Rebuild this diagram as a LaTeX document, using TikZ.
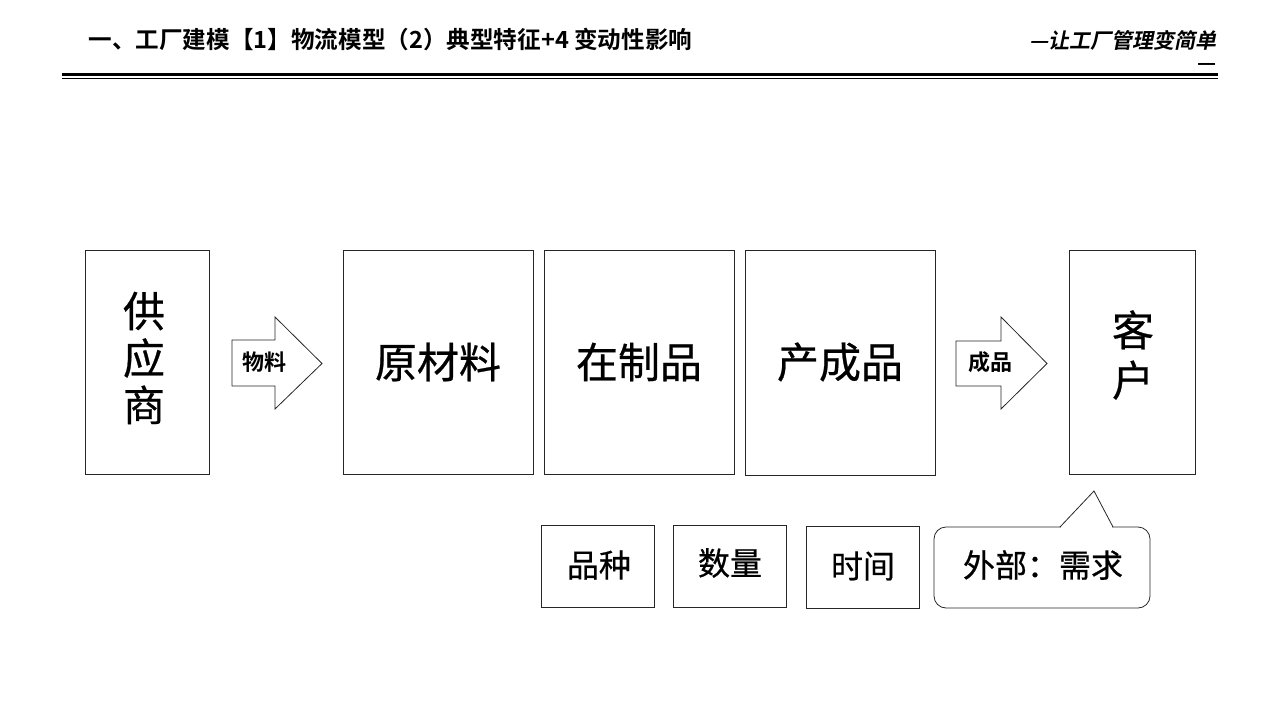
\documentclass[tikz,border=0pt]{standalone}
\usepackage{fontspec}
\newfontfamily\cjk[FakeBold=0.6]{Noto Sans CJK SC}
\newfontfamily\cjkb{Noto Sans CJK SC Bold}
\newfontfamily\cjkbi[FakeSlant=0.2]{Noto Sans CJK SC Bold}
\begin{document}
\begin{tikzpicture}[x=1pt,y=-1pt,
  box/.style={draw=black!85,line width=1pt},
  big/.style={font=\cjk\fontsize{42}{48}\selectfont},
  small/.style={font=\cjkb\fontsize{22}{26}\selectfont},
  mid/.style={font=\cjk\fontsize{32}{38}\selectfont}]
\useasboundingbox (0,0) rectangle (1280,720);
% header
\node[anchor=west,font=\cjkb\fontsize{23.6}{28}\selectfont] (title) at (85,40) {一、工厂建模【1】物流模型（2）典型特征+4 变动性影响};
\node[anchor=east,font=\cjkbi\fontsize{21}{24}\selectfont] (slogan) at (1220,40) {—让工厂管理变简单};
\node[anchor=east,font=\cjkb\fontsize{21}{24}\selectfont] (dash) at (1220,67) {—};
\coordinate (hl1) at (62,74.5); \coordinate (hr1) at (1218,74.5);
\coordinate (hl2) at (62,78.5); \coordinate (hr2) at (1218,78.5);
\draw[line width=2.5pt] (hl1) -- (hr1);
\draw[line width=1pt] (hl2) -- (hr2);
% main boxes
\draw[box] (85,250) rectangle (209,474);
\node[big,align=center] (sup) at (144,358) {供\\[-1pt]应\\[-1pt]商};
\draw[box] (343,250) rectangle (533,474);
\node[big] (raw) at (438,362) {原材料};
\draw[box] (544,250) rectangle (734,474);
\node[big] (wip) at (639,362) {在制品};
\draw[box] (745,250) rectangle (935,475);
\node[big] (fin) at (840,362) {产成品};
\draw[box] (1069,250) rectangle (1195,474);
\node[big,align=center] (cus) at (1133,355) {客\\[2pt]户};
% arrows
\draw[box,line width=0.8pt] (232,340) -- (275,340) -- (275,317) -- (322,363.5) -- (275,409) -- (275,386) -- (232,386) -- cycle;
\node[small] (a1) at (264,362) {物料};
\draw[box,line width=0.8pt] (956,341) -- (1001,341) -- (1001,317) -- (1047,363.5) -- (1001,409) -- (1001,386) -- (956,386) -- cycle;
\node[small] (a2) at (990,362) {成品};
% bottom boxes
\draw[box] (541,525) rectangle (654,607);
\node[mid] (b1) at (599,565) {品种};
\draw[box] (673,525) rectangle (786,607);
\node[mid] (b2) at (730,563) {数量};
\draw[box] (806,526) rectangle (919,608);
\node[mid] (b3) at (863,566) {时间};
% callout
\draw[box,line width=0.8pt,rounded corners=12pt] (1060,527) -- (1150,527) -- (1150,608) -- (934,608) -- (934,527) -- (1060,527);
\draw[white,line width=2pt] (1061,527) -- (1112,527);
\draw[box,line width=0.8pt,line join=miter] (1060,527) -- (1094,491) -- (1113,527);
\node[mid] (b4) at (1043,565) {外部：需求};
\end{tikzpicture}
\end{document}
